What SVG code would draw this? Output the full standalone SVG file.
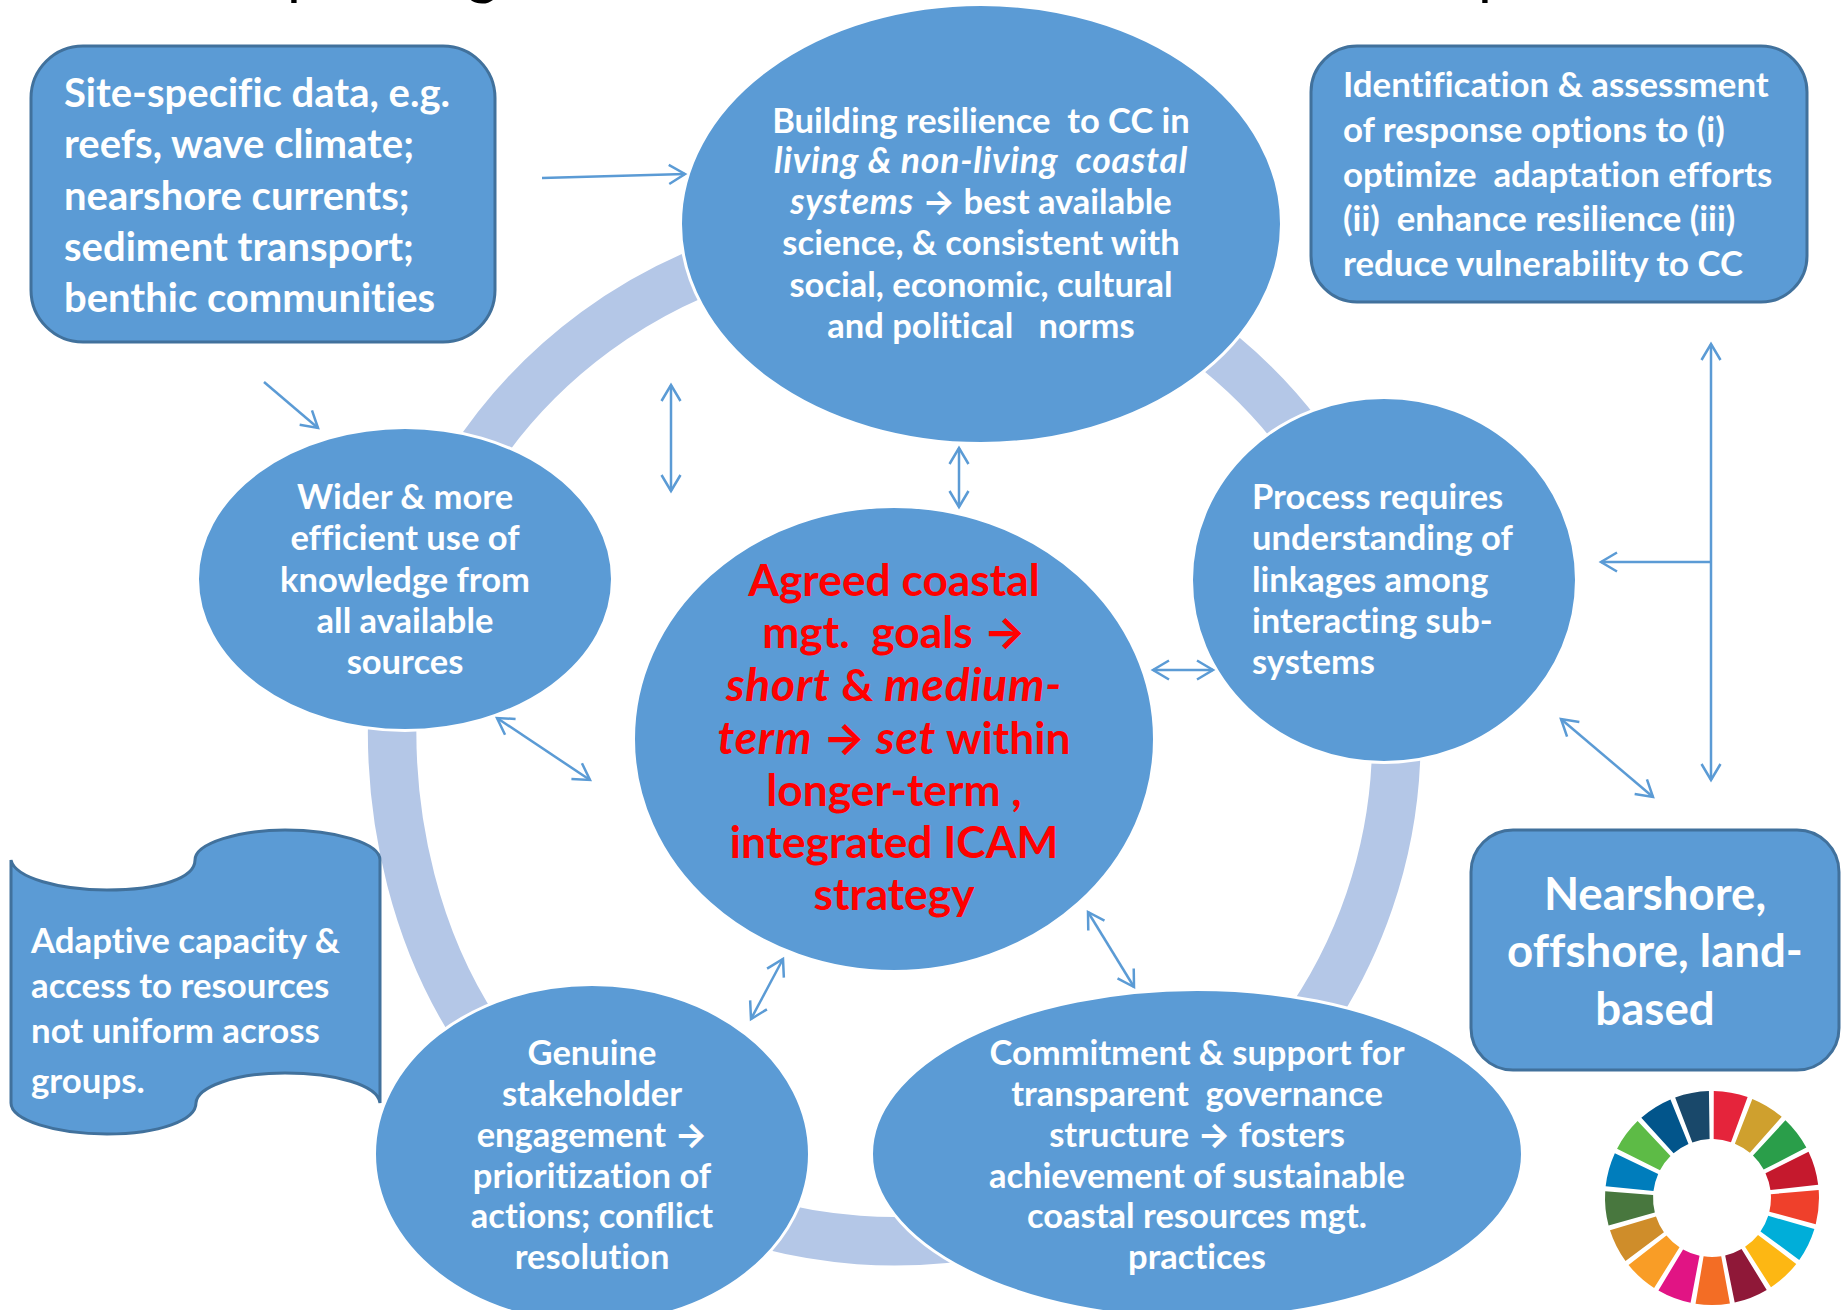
<svg xmlns="http://www.w3.org/2000/svg" width="1845" height="1310" viewBox="0 0 1845 1310">
<style>
text{font-family:"Lato","Carlito","Open Sans",sans-serif;font-weight:700;fill:#fff;white-space:pre;font-variant-ligatures:none}
.c{text-anchor:middle}
.s{font-size:34.5px}
.m{font-size:34.8px}
.l{font-size:40px}
.xl{font-size:45.6px}
.r{font-size:44.3px;fill:#f00}
.i{font-style:italic;font-size:35.5px;letter-spacing:.8px}
.ri{font-style:italic;font-size:46px;letter-spacing:.8px}
.a{font-family:"Inter","DejaVu Sans",sans-serif;font-weight:700}
.n{fill:#5B9BD5;stroke:#fff;stroke-width:3}
.b{fill:#5B9BD5;stroke:#41719C;stroke-width:3}
.t{fill:#000;font-weight:400;font-size:60px}
.k{fill:none;stroke:#5B9BD5;stroke-width:2.5}
.h{fill:none;stroke:#5B9BD5;stroke-width:2.5}
.g{fill:none;stroke:#B4C7E7;stroke-width:48.500}
</style>
<defs>
<marker id="ah" markerUnits="userSpaceOnUse" markerWidth="24" markerHeight="26" refX="21" refY="13" orient="auto-start-reverse"><path class="h" d="M5 3.500L21 13L5 22.500"/></marker>
<path id="w" d="M-8.800 -58.300L-17.200 -105.600A107 107 0 0 1 17.200 -105.600L8.800 -58.300A59 59 0 0 0 -8.800 -58.300Z"/>
</defs>
<g id="title-fragments"><text class="t" x="287" y="-7">p</text><text class="t" x="467" y="-7">g</text><text class="t" x="1478" y="-7">p</text></g>
<g id="ring">
<path class="g" d="M470 465A505 505 0 0 1 760 252"/>
<path class="g" d="M1190 330A506 506 0 0 1 1340 497"/>
<path class="g" d="M1396 720A502 502 0 0 1 1280 1060"/>
<path class="g" d="M1000 1230A502 502 0 0 1 720 1210"/>
<path class="g" d="M393 700C387 810 412 950 497 1060"/>
</g>

<g id="node-site-data"><rect class="b" x="31" y="46" width="464" height="296" rx="52"/>
<text class="l" x="64" y="107">Site-specific data, e.g.</text><text class="l" x="64" y="158">reefs, wave climate;</text><text class="l" x="64" y="210">nearshore currents;</text><text class="l" x="64" y="261">sediment transport;</text><text class="l" x="64" y="312">benthic communities</text></g>

<g id="node-resilience"><ellipse class="n" cx="981" cy="224" rx="300.500" ry="219.500"/>
<text class="s c" x="981" y="133">Building resilience  to CC in</text><text class="s c" x="981" y="173"><tspan class="i">living &amp; non-living  coastal</tspan></text><text class="s c" x="981" y="214"><tspan class="i">systems</tspan> <tspan class="a">→</tspan> best available</text><text class="s c" x="981" y="255">science, &amp; consistent with</text><text class="s c" x="981" y="297">social, economic, cultural</text><text class="s c" x="981" y="338">and political   norms</text></g>

<g id="node-response"><rect class="b" x="1311" y="46" width="496" height="256" rx="46"/>
<text class="m" x="1343" y="97">Identification &amp; assessment</text><text class="m" x="1343" y="142">of response options to (i)</text><text class="m" x="1343" y="187">optimize  adaptation efforts</text><text class="m" x="1343" y="231">(ii)  enhance resilience (iii)</text><text class="m" x="1343" y="276">reduce vulnerability to CC</text></g>

<g id="node-knowledge"><ellipse class="n" cx="405" cy="579" rx="207.500" ry="151.500"/>
<text class="s c" x="405" y="509">Wider &amp; more</text><text class="s c" x="405" y="550">efficient use of</text><text class="s c" x="405" y="592">knowledge from</text><text class="s c" x="405" y="633">all available</text><text class="s c" x="405" y="674">sources</text></g>

<g id="node-process"><ellipse class="n" cx="1384" cy="580" rx="192.500" ry="182.500"/>
<text class="s" x="1252" y="509">Process requires</text><text class="s" x="1252" y="550">understanding of</text><text class="s" x="1252" y="592">linkages among</text><text class="s" x="1252" y="633">interacting sub-</text><text class="s" x="1252" y="674">systems</text></g>

<g id="node-goals"><ellipse class="n" cx="894" cy="739" rx="260.500" ry="232.500"/>
<text class="r c" x="894" y="596">Agreed coastal</text><text class="r c" x="894" y="648">mgt.  goals <tspan class="a">→</tspan></text><text class="r c" x="894" y="701"><tspan class="ri">short</tspan> &amp; <tspan class="ri">medium-</tspan></text><text class="r c" x="894" y="754"><tspan class="ri">term</tspan> <tspan class="a">→</tspan> <tspan class="ri">set</tspan> within</text><text class="r c" x="894" y="806">longer-term ,</text><text class="r c" x="894" y="858">integrated ICAM</text><text class="r c" x="894" y="910">strategy</text></g>

<g id="node-nearshore"><rect class="b" x="1471" y="830" width="368" height="240" rx="42"/>
<text class="xl c" x="1655" y="910">Nearshore,</text><text class="xl c" x="1655" y="967">offshore, land-</text><text class="xl c" x="1655" y="1025">based</text></g>

<g id="node-adaptive"><path class="b" d="M11 860C15 878 60 890 107 890C160 890 195 878 195 860C195 843 240 830 285 830C335 830 380 843 380 860L380 1103C378 1085 335 1073 285 1073C235 1073 197 1087 196 1103C196 1120 160 1134 107 1134C55 1134 11 1120 11 1103Z"/>
<text class="m" x="31" y="953">Adaptive capacity &amp;</text><text class="m" x="31" y="998">access to resources</text><text class="m" x="31" y="1043">not uniform across</text><text class="m" x="31" y="1093">groups.</text></g>

<g id="node-stakeholder"><ellipse class="n" cx="592" cy="1154" rx="217.500" ry="169.500"/>
<text class="s c" x="592" y="1065">Genuine</text><text class="s c" x="592" y="1106">stakeholder</text><text class="s c" x="592" y="1147">engagement <tspan class="a">→</tspan></text><text class="s c" x="592" y="1188">prioritization of</text><text class="s c" x="592" y="1228">actions; conflict</text><text class="s c" x="592" y="1269">resolution</text></g>

<g id="node-governance"><ellipse class="n" cx="1197" cy="1154" rx="325.500" ry="164.500"/>
<text class="s c" x="1197" y="1065">Commitment &amp; support for</text><text class="s c" x="1197" y="1106">transparent  governance</text><text class="s c" x="1197" y="1147">structure <tspan class="a">→</tspan> fosters</text><text class="s c" x="1197" y="1188">achievement of sustainable</text><text class="s c" x="1197" y="1228">coastal resources mgt.</text><text class="s c" x="1197" y="1269">practices</text></g>

<g id="connectors">
<path class="k" marker-end="url(#ah)" d="M542 178L685 174"/>
<path class="k" marker-end="url(#ah)" d="M264 382L318 428"/>
<path class="k" marker-start="url(#ah)" marker-end="url(#ah)" d="M671 385L671 491"/>
<path class="k" marker-start="url(#ah)" marker-end="url(#ah)" d="M959 448L959 507"/>
<path class="k" marker-start="url(#ah)" marker-end="url(#ah)" d="M1153 670L1213 670"/>
<path class="k" marker-start="url(#ah)" marker-end="url(#ah)" d="M497 718L590 780"/>
<path class="k" marker-start="url(#ah)" marker-end="url(#ah)" d="M783 959L751 1019"/>
<path class="k" marker-start="url(#ah)" marker-end="url(#ah)" d="M1088 912L1134 987"/>
<path class="k" marker-start="url(#ah)" marker-end="url(#ah)" d="M1561 719L1653 797"/>
<path class="k" marker-start="url(#ah)" marker-end="url(#ah)" d="M1711 344L1711 780"/>
<path class="k" marker-end="url(#ah)" d="M1711 562L1601 562"/>
</g>

<g id="sdg-wheel" transform="translate(1712 1198)">
<use href="#w" fill="#E5243B" transform="rotate(10.2)"/>
<use href="#w" fill="#CFA02E" transform="rotate(31.4)"/>
<use href="#w" fill="#2A9E4A" transform="rotate(52.6)"/>
<use href="#w" fill="#C5192D" transform="rotate(73.7)"/>
<use href="#w" fill="#EF402B" transform="rotate(94.9)"/>
<use href="#w" fill="#00AED9" transform="rotate(116.1)"/>
<use href="#w" fill="#FDB713" transform="rotate(137.3)"/>
<use href="#w" fill="#8F1838" transform="rotate(158.5)"/>
<use href="#w" fill="#F36D25" transform="rotate(179.6)"/>
<use href="#w" fill="#E11484" transform="rotate(200.8)"/>
<use href="#w" fill="#F99D26" transform="rotate(222)"/>
<use href="#w" fill="#CF8D2A" transform="rotate(243.2)"/>
<use href="#w" fill="#48773E" transform="rotate(264.4)"/>
<use href="#w" fill="#007DBC" transform="rotate(285.5)"/>
<use href="#w" fill="#5DBB46" transform="rotate(306.7)"/>
<use href="#w" fill="#02558B" transform="rotate(327.9)"/>
<use href="#w" fill="#19486A" transform="rotate(349.1)"/>
</g>
</svg>
